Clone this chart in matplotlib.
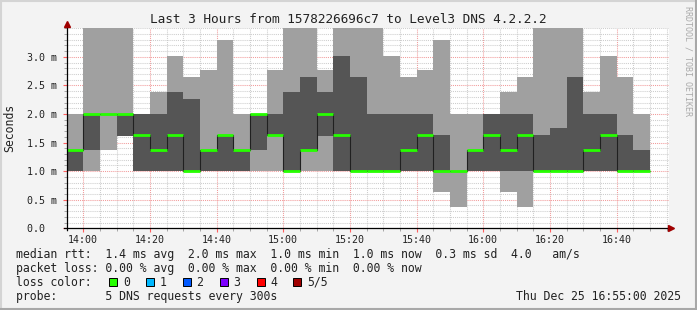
import matplotlib
matplotlib.use('Agg')
import matplotlib.pyplot as plt
import numpy as np
from matplotlib.patches import Rectangle
from matplotlib.lines import Line2D

# ---------------- data (ms), one entry per 5-minute step from 13:55 ----------------
step_minutes = 5
ping_min = [1.0, 1.0, 1.37, 1.62, 1.0, 1.0, 1.0, 1.0, 1.0, 1.0,
            1.0, 1.0, 1.0, 1.0, 1.0, 1.0, 1.0, 1.0, 1.0, 1.0,
            1.0, 1.0, 0.63, 0.37, 1.0, 1.0, 0.63, 0.37, 1.0, 1.0,
            1.0, 1.0, 1.0, 1.0, 1.0]
ping_lo = [1.0, 1.37, 2.0, 1.62, 1.0, 1.0, 1.0, 1.0, 1.0, 1.0,
           1.0, 1.37, 1.63, 1.0, 1.37, 1.62, 1.0, 1.0, 1.0, 1.0,
           1.0, 1.0, 1.0, 1.0, 1.0, 1.0, 1.0, 1.0, 1.0, 1.0,
           1.0, 1.0, 1.0, 1.0, 1.0]
ping_med = [1.37, 2.0, 2.0, 2.0, 1.63, 1.37, 1.63, 1.0, 1.37, 1.63,
            1.37, 2.0, 1.63, 1.0, 1.37, 2.0, 1.63, 1.0, 1.0, 1.0,
            1.37, 1.63, 1.0, 1.0, 1.37, 1.63, 1.37, 1.63, 1.0, 1.0,
            1.0, 1.37, 1.63, 1.0, 1.0]
ping_hi = [1.37, 2.0, 2.0, 2.0, 2.0, 2.0, 2.38, 2.27, 1.37, 1.63,
           1.37, 2.0, 2.0, 2.38, 2.64, 2.38, 3.02, 2.64, 2.0, 2.0,
           2.0, 2.0, 1.63, 1.0, 1.37, 2.0, 2.0, 2.0, 1.63, 1.75,
           2.64, 2.0, 2.0, 1.63, 1.37]
ping_max = [2.0, 3.6, 3.6, 3.6, 2.0, 2.38, 3.02, 2.64, 2.77, 3.3,
            2.0, 2.0, 2.77, 3.6, 3.6, 2.77, 3.6, 3.6, 3.6, 3.02,
            2.64, 2.77, 3.3, 2.0, 2.0, 2.0, 2.38, 2.64, 3.6, 3.6,
            3.6, 2.38, 3.02, 2.64, 2.0]

xtick_minutes = [5, 25, 45, 65, 85, 105, 125, 145, 165]
xtick_labels = ['14:00', '14:20', '14:40', '15:00', '15:20', '15:40', '16:00', '16:20', '16:40']
ytick_values = [0.0, 0.5, 1.0, 1.5, 2.0, 2.5, 3.0]
ytick_labels = ['0.0  ', '0.5 m', '1.0 m', '1.5 m', '2.0 m', '2.5 m', '3.0 m']

title = 'Last 3 Hours from 1578226696c7 to Level3 DNS 4.2.2.2'
rtt_line = 'median rtt:  1.4 ms avg  2.0 ms max  1.0 ms min  1.0 ms now  0.3 ms sd  4.0   am/s'
loss_line = 'packet loss: 0.00 % avg  0.00 % max  0.00 % min  0.00 % now'
probe_line = 'probe:       5 DNS requests every 300s'
date_text = 'Thu Dec 25 16:55:00 2025'
loss_labels = ['0', '1', '2', '3', '4', '5/5']
loss_colors = ['#26ff00', '#00b8ff', '#0059ff', '#7e00ff', '#ff0000', '#a00000']

MONO = 'DejaVu Sans Mono'
W, H = 697, 310

def fx(x):
    return x / W

def fy(y):
    return 1 - y / H

fig = plt.figure(figsize=(W / 100, H / 100), dpi=100, facecolor='#f3f3f3')

x0, x1, ybot, ytop = 66.5, 668.5, 228.3, 28.3
ax = fig.add_axes([fx(x0), fy(ybot), fx(x1 - x0), (ybot - ytop) / H])
ax.set_facecolor('white')

edges = np.arange(len(ping_med) + 1) * step_minutes
ax.stairs(ping_max, edges, baseline=ping_min, fill=True, color='#a0a0a0', zorder=2)
ax.stairs(ping_hi, edges, baseline=ping_lo, fill=True, color='#555555', zorder=3)
ax.stairs(ping_med, edges, baseline=None, color='#202020', lw=0.8, zorder=4)
ax.hlines(ping_med, edges[:-1], edges[1:], colors=loss_colors[0], lw=2.0, zorder=5)

ax.set_xlim(0, 180.6)
ax.set_ylim(0, 3.5)

ax.set_xticks(xtick_minutes)
ax.set_xticklabels(xtick_labels)
ax.set_xticks(np.arange(0, 181, 5), minor=True)
ax.set_yticks(ytick_values)
ax.set_yticklabels(ytick_labels)
ax.set_yticks(np.arange(0, 3.51, 0.1), minor=True)

ax.set_axisbelow(True)
ax.grid(which='minor', color='#c8c8c8', linestyle=(0, (1, 1)), lw=0.75, alpha=0.9)
ax.grid(which='major', color='#f09090', linestyle=(0, (1, 1)), lw=0.75, alpha=0.9)

for s in ax.spines.values():
    s.set_visible(False)

ax.tick_params(axis='both', which='both', labelsize=7.2, labelcolor='#222222')
ax.tick_params(axis='x', which='major', length=3, color='#ff6060', direction='out', pad=2)
ax.tick_params(axis='x', which='minor', length=2, color='#999999', direction='out')
ax.tick_params(axis='y', which='major', length=3, color='#ff6060', direction='out', pad=4)
ax.tick_params(axis='y', which='minor', length=2, color='#999999', direction='out')
for lab in ax.get_xticklabels() + ax.get_yticklabels():
    lab.set_fontfamily(MONO)

# axes lines with arrows
fig.add_artist(Line2D([fx(x0), fx(x0)], [fy(ybot + 2), fy(24)], color='black', lw=0.9))
fig.add_artist(Line2D([fx(x0 - 3), fx(670)], [fy(ybot), fy(ybot)], color='black', lw=0.9))
fig.add_artist(Line2D([fx(x0)], [fy(23.5)], marker='^', color='#a00000', markersize=4.5, lw=0))
fig.add_artist(Line2D([fx(671)], [fy(ybot)], marker='>', color='#a00000', markersize=4.5, lw=0))

# texts
fig.text(fx(348), fy(19.3), title, family=MONO, fontsize=9.2, ha='center', va='center', color='#222222')
fig.text(fx(10), fy(128), 'Seconds', family=MONO, fontsize=8.3, rotation=90, ha='center', va='center', color='#222222')
fig.text(fx(688), fy(6), 'RRDTOOL / TOBI OETIKER', family=MONO, fontsize=6, rotation=270,
         ha='center', va='top', color='#aaaaaa')

fig.text(fx(16.4), fy(254.3), rtt_line, family=MONO, fontsize=8.3, ha='left', va='center', color='#222222')
fig.text(fx(16.4), fy(268.3), loss_line, family=MONO, fontsize=8.3, ha='left', va='center', color='#222222')
fig.text(fx(16.4), fy(282.3), 'loss color:', family=MONO, fontsize=8.3, ha='left', va='center', color='#222222')
fig.text(fx(16.4), fy(296.3), probe_line, family=MONO, fontsize=8.3, ha='left', va='center', color='#222222')
fig.text(fx(680.5), fy(296.3), date_text, family=MONO, fontsize=8.3, ha='right', va='center', color='#222222')

box_x = [109, 145.8, 182.6, 219.6, 256.8, 293.4]
for bx, lab, col in zip(box_x, loss_labels, loss_colors):
    fig.add_artist(Rectangle((fx(bx), fy(286.3)), fx(8), 8 / H, facecolor=col, edgecolor='black', lw=0.7))
    fig.text(fx(bx + 14), fy(282.3), lab, family=MONO, fontsize=8.3, ha='left', va='center', color='#222222')

# frame
fig.add_artist(Line2D([0.5 / W, 0.5 / W], [0, 1], color='#d4d4d4', lw=1.5))
fig.add_artist(Line2D([0, 1], [1 - 0.5 / H, 1 - 0.5 / H], color='#d4d4d4', lw=1.5))
fig.add_artist(Line2D([1 - 1 / W, 1 - 1 / W], [0, 1], color='#a8a8a8', lw=1.5))
fig.add_artist(Line2D([0, 1], [1 / H, 1 / H], color='#a8a8a8', lw=1.5))

fig.savefig('out.png', dpi=100, facecolor=fig.get_facecolor())
